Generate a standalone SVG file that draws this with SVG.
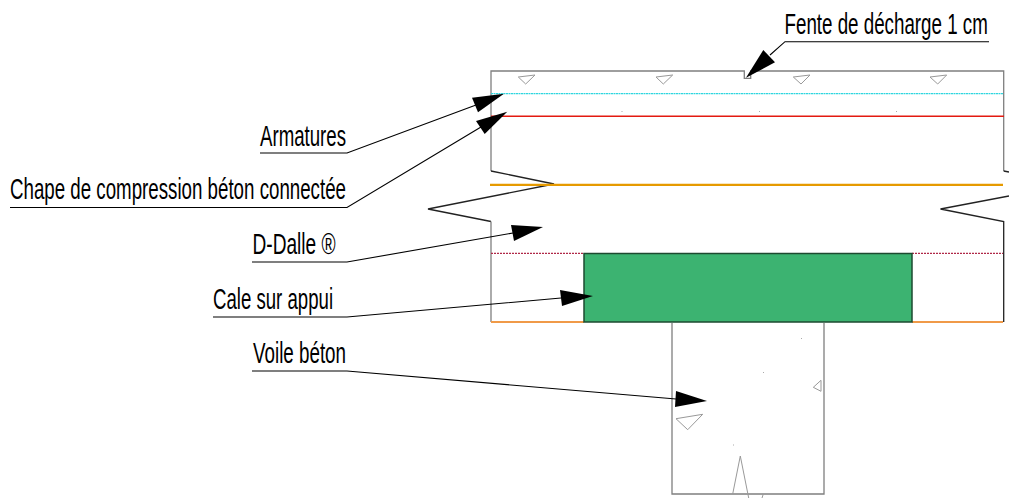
<svg xmlns="http://www.w3.org/2000/svg" width="1009" height="498" viewBox="0 0 1009 498">
<style>
.o{fill:none;stroke:#7f7f7f;stroke-width:1.300}
.k{fill:none;stroke:#222;stroke-width:1.300}
.t{fill:none;stroke:#999;stroke-width:1}
.l{fill:none;stroke:#000;stroke-width:1.100}
.h{fill:#000;stroke:none}
text{font-family:"Liberation Sans",Arial,sans-serif;font-size:29px;fill:#000}
</style>
<rect width="1009" height="498" fill="#fff"/>
<g id="dalle">
<path class="o" d="M491 171V71H744.300V78.300H750.700V71H1003.700V171"/>
<path class="k" d="M491 171L554 184L428 209L491 221.500"/>
<path class="o" d="M491 221.500V322"/>
<path class="k" d="M1003.700 171L1009 172M1009 196L940.500 209L1003.700 221.500V322"/>
<path d="M491 93.700H1003" stroke="#2fd6df" stroke-width="1.200" stroke-dasharray="2 0.500" fill="none"/>
<path d="M491 116.200H1004" stroke="#e31a10" stroke-width="1.600" fill="none"/>
<path d="M490 184.800H1003" stroke="#e69a00" stroke-width="2.200" fill="none"/>
<path d="M491 253.400H584M912 253.400H1003" stroke="#b02848" stroke-width="1.100" stroke-dasharray="2 1" fill="none"/>
<path d="M491 322H584M912 322H1003" stroke="#f09a48" stroke-width="2" fill="none"/>
<path class="t" d="M518.300 77L535 75L525.700 84Z"/>
<path class="t" d="M656 77L672.700 75L663.300 84Z"/>
<path class="t" d="M793.300 77L810 75L801 84Z"/>
<path class="t" d="M930 77L946.700 75L937.700 84Z"/>
<path d="M621.500 111.500h1M759 111.500h1M896 111.500h1" stroke="#aaa" stroke-width="1"/>
</g>
<g id="cale">
<rect x="584" y="253.500" width="328" height="68.500" fill="#3cb371" stroke="#1d4a30" stroke-width="1.500"/>
</g>
<g id="voile">
<path class="o" d="M672 323V494H824V323"/>
<path class="t" d="M676 418.700L702.700 414.300L687.700 429.700Z"/>
<path class="t" d="M821 380.300L813.300 387.300L821 391.300Z"/>
<path class="t" d="M732.700 494L740.300 456L748.700 498M763.300 494L762 498"/>
<path d="M801 338.500h1M763 372.500h1M733 445h1" stroke="#aaa" stroke-width="1"/>
</g>
<g id="connectors">
<path class="l" d="M989 41.700H785L770 55"/>
<polygon class="h" points="746,77.700 763.300,50 775,62.300"/>
<path class="l" d="M260 153H347L476 105"/>
<polygon class="h" points="504,93.700 472,97.700 478,112.300"/>
<path class="l" d="M10 207.500H347L481 127"/>
<polygon class="h" points="507.300,111.700 476,121 484.700,134"/>
<path class="l" d="M252 262H347L513 233"/>
<polygon class="h" points="543,227 511,225 514,241"/>
<path class="l" d="M213 317H347L561 298"/>
<polygon class="h" points="593,296 560,290 562,306"/>
<path class="l" d="M252 371H347L676 399"/>
<polygon class="h" points="707,401 676,391 675,407"/>
</g>
<g id="labels">
<text transform="translate(784.500 33.500) scale(.68 1)" textLength="299" lengthAdjust="spacingAndGlyphs">Fente de décharge 1 cm</text>
<text transform="translate(260 146) scale(.68 1)" textLength="126.500" lengthAdjust="spacingAndGlyphs">Armatures</text>
<text transform="translate(10 199) scale(.68 1)" textLength="494.100" lengthAdjust="spacingAndGlyphs">Chape de compression béton connectée</text>
<text transform="translate(252.500 254) scale(.68 1)" textLength="122.100" lengthAdjust="spacingAndGlyphs">D-Dalle ®</text>
<text transform="translate(213 309) scale(.68 1)" textLength="176.500" lengthAdjust="spacingAndGlyphs">Cale sur appui</text>
<text transform="translate(253 363) scale(.68 1)" textLength="136.800" lengthAdjust="spacingAndGlyphs">Voile béton</text>
</g>
</svg>
